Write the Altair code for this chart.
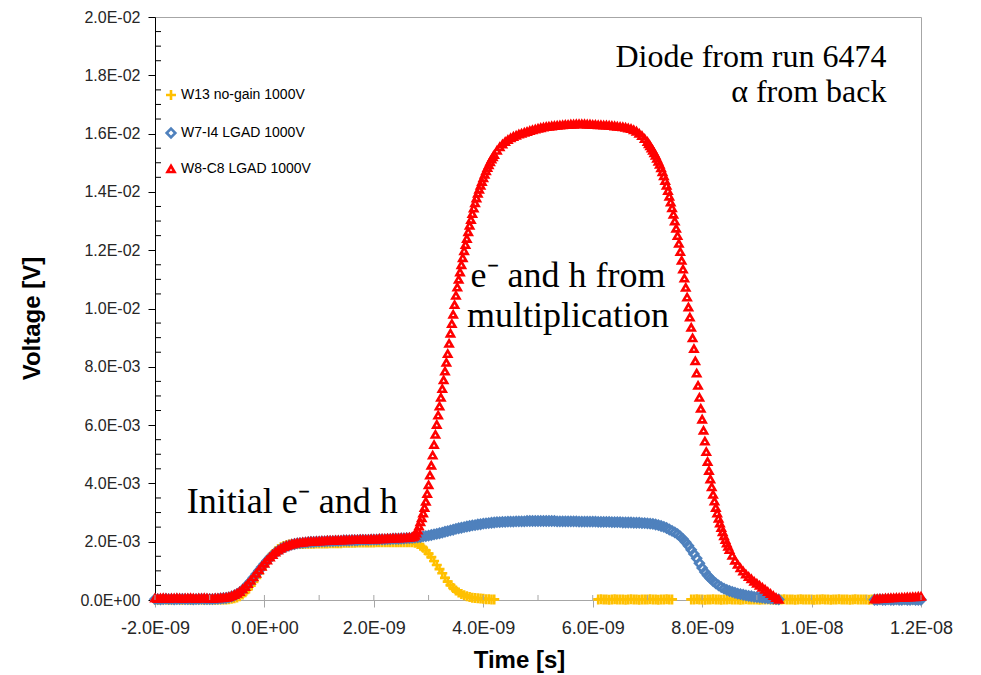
import altair as alt
import pandas as pd

# ---------------- data (time in ns, voltage in mV) ----------------
T0_NS = -2.0
DT_NS = 0.05
N_SAMPLES = 281
TIME_NS = [round(T0_NS + DT_NS * i, 3) for i in range(N_SAMPLES)]

N = None
SERIES = ["W13 no-gain 1000V", "W7-I4 LGAD 1000V", "W8-C8 LGAD 1000V"]
COLORS = ["#FFC000", "#4F81BD", "#FF0000"]

W13_MV = [
    0.02, 0.01, 0.02, 0.03, 0.02, 0.01, 0.02, 0.02, 0.03, 0.02, 0.01, 0.02, 0.02, 0.01, 0.02, 0.03, 0.02, 0.02, 0.01, 0.02,
    0.02, 0.02, 0.01, 0.02, 0.02, 0.02, 0.02, 0.03, 0.04, 0.06, 0.09, 0.13, 0.19, 0.27, 0.37, 0.49, 0.62, 0.76, 0.91, 1.06,
    1.20, 1.34, 1.47, 1.58, 1.67, 1.75, 1.81, 1.85, 1.88, 1.90, 1.91, 1.91, 1.92, 1.92, 1.92, 1.93, 1.93, 1.93, 1.93, 1.94,
    1.94, 1.94, 1.94, 1.94, 1.95, 1.95, 1.95, 1.95, 1.95, 1.96, 1.96, 1.96, 1.96, 1.96, 1.97, 1.97, 1.97, 1.97, 1.97, 1.97,
    1.97, 1.98, 1.98, 1.98, 1.98, 1.98, 1.98, 1.98, 1.98, 1.98, 1.98, 1.98, 1.98, 1.98, 1.98, 1.96, 1.92, 1.86, 1.79, 1.70,
    1.59, 1.47, 1.34, 1.20, 1.06, 0.92, 0.76, 0.63, 0.51, 0.41, 0.33, 0.26, 0.21, 0.16, 0.13, 0.10, 0.08, 0.07, 0.06, 0.05,
    0.04, 0.03, 0.03, 0.02, 0.02, N, N, N, N, N, N, N, N, N, N, N, N, N, N, N,
    N, N, N, N, N, N, N, N, N, N, N, N, N, N, N, N, N, N, N, N,
    N, N, 0.02, 0.03, 0.02, 0.02, 0.01, 0.02, 0.03, 0.02, 0.02, 0.02, 0.01, 0.02, 0.03, 0.02, 0.02, 0.01, 0.02, 0.02,
    0.02, 0.03, 0.02, 0.02, 0.01, 0.02, 0.02, 0.03, 0.02, 0.02, N, N, N, N, N, N, 0.02, 0.02, 0.03, 0.02,
    0.02, 0.01, 0.02, 0.02, 0.03, 0.02, 0.02, 0.01, 0.02, 0.02, 0.03, 0.02, 0.02, 0.02, 0.01, 0.02, 0.03, 0.02, 0.02, 0.02,
    0.02, 0.01, 0.02, 0.02, 0.03, 0.02, 0.02, 0.01, 0.02, 0.02, 0.03, 0.02, 0.02, 0.02, 0.01, 0.02, 0.03, 0.02, 0.02, 0.02,
    0.02, 0.01, 0.02, 0.02, 0.03, 0.02, 0.02, 0.01, 0.02, 0.02, 0.03, 0.02, 0.02, 0.02, 0.01, 0.02, 0.03, 0.02, 0.02, 0.02,
    0.02, 0.01, 0.02, 0.02, 0.03, 0.02, 0.02, 0.01, 0.02, 0.02, 0.03, 0.02, 0.02, 0.02, 0.01, 0.02, 0.03, 0.02, 0.02, 0.02,
    0.02,
]

W7_MV = [
    0.03, 0.03, 0.02, 0.03, 0.04, 0.03, 0.03, 0.02, 0.03, 0.03, 0.04, 0.03, 0.03, 0.03, 0.02, 0.03, 0.03, 0.04, 0.03, 0.03,
    0.03, 0.03, 0.04, 0.04, 0.05, 0.06, 0.07, 0.09, 0.12, 0.16, 0.21, 0.27, 0.35, 0.44, 0.54, 0.65, 0.77, 0.89, 1.01, 1.13,
    1.24, 1.35, 1.45, 1.54, 1.62, 1.69, 1.75, 1.80, 1.84, 1.87, 1.90, 1.92, 1.94, 1.95, 1.96, 1.97, 1.98, 1.99, 1.99, 2.00,
    2.00, 2.01, 2.01, 2.02, 2.02, 2.02, 2.03, 2.03, 2.03, 2.04, 2.04, 2.04, 2.05, 2.05, 2.05, 2.06, 2.06, 2.06, 2.06, 2.07,
    2.07, 2.07, 2.08, 2.08, 2.08, 2.09, 2.09, 2.10, 2.10, 2.10, 2.11, 2.11, 2.12, 2.12, 2.13, 2.14, 2.15, 2.16, 2.18, 2.19,
    2.21, 2.23, 2.25, 2.27, 2.29, 2.31, 2.34, 2.36, 2.39, 2.41, 2.44, 2.46, 2.48, 2.50, 2.52, 2.54, 2.56, 2.57, 2.59, 2.60,
    2.62, 2.63, 2.64, 2.65, 2.66, 2.67, 2.67, 2.68, 2.68, 2.69, 2.69, 2.69, 2.70, 2.70, 2.70, 2.70, 2.71, 2.71, 2.71, 2.71,
    2.71, 2.71, 2.71, 2.71, 2.71, 2.71, 2.71, 2.70, 2.70, 2.70, 2.70, 2.70, 2.70, 2.70, 2.70, 2.69, 2.69, 2.69, 2.69, 2.69,
    2.69, 2.69, 2.68, 2.68, 2.68, 2.68, 2.68, 2.67, 2.67, 2.67, 2.67, 2.66, 2.66, 2.66, 2.66, 2.65, 2.65, 2.65, 2.64, 2.64,
    2.63, 2.62, 2.61, 2.59, 2.57, 2.54, 2.51, 2.47, 2.42, 2.37, 2.32, 2.26, 2.18, 2.09, 1.98, 1.86, 1.72, 1.58, 1.43, 1.26,
    1.10, 0.96, 0.84, 0.74, 0.65, 0.57, 0.50, 0.44, 0.39, 0.35, 0.31, 0.28, 0.25, 0.22, 0.20, 0.18, 0.16, 0.14, 0.13, 0.11,
    0.10, 0.09, 0.08, 0.07, 0.06, 0.05, 0.04, 0.03, 0.02, N, N, N, N, N, N, N, N, N, N, N,
    N, N, N, N, N, N, N, N, N, N, N, N, N, N, N, N, N, N, N, N,
    N, N, N, 0.01, 0.01, 0.02, 0.01, 0.01, 0.02, 0.01, 0.01, 0.02, 0.01, 0.01, 0.02, 0.01, 0.01, 0.02, 0.01, 0.01,
    0.01,
]

W8_MV = [
    0.06, 0.05, 0.06, 0.07, 0.06, 0.05, 0.06, 0.06, 0.07, 0.06, 0.05, 0.06, 0.06, 0.07, 0.06, 0.05, 0.06, 0.06, 0.07, 0.06,
    0.05, 0.05, 0.06, 0.06, 0.07, 0.08, 0.09, 0.11, 0.14, 0.18, 0.23, 0.29, 0.37, 0.46, 0.56, 0.67, 0.79, 0.91, 1.03, 1.15,
    1.26, 1.37, 1.47, 1.56, 1.64, 1.71, 1.77, 1.82, 1.86, 1.89, 1.92, 1.94, 1.96, 1.97, 1.98, 1.99, 2.00, 2.01, 2.01, 2.02,
    2.02, 2.03, 2.03, 2.04, 2.04, 2.04, 2.05, 2.05, 2.05, 2.06, 2.06, 2.06, 2.07, 2.07, 2.07, 2.08, 2.08, 2.08, 2.08, 2.09,
    2.09, 2.09, 2.10, 2.10, 2.10, 2.11, 2.11, 2.12, 2.12, 2.12, 2.13, 2.13, 2.14, 2.15, 2.16, 2.22, 2.40, 2.68, 2.98, 3.38,
    3.95, 4.62, 5.33, 6.02, 6.65, 7.25, 7.85, 8.45, 9.15, 9.80, 10.45, 11.00, 11.50, 11.98, 12.40, 12.85, 13.25, 13.62, 13.95, 14.22,
    14.48, 14.72, 14.93, 15.12, 15.28, 15.42, 15.54, 15.64, 15.72, 15.79, 15.85, 15.90, 15.94, 15.98, 16.01, 16.04, 16.07, 16.10, 16.13, 16.15,
    16.18, 16.20, 16.22, 16.24, 16.25, 16.26, 16.27, 16.28, 16.29, 16.30, 16.31, 16.31, 16.32, 16.32, 16.33, 16.33, 16.33, 16.33, 16.32, 16.32,
    16.31, 16.31, 16.30, 16.30, 16.29, 16.29, 16.28, 16.27, 16.26, 16.25, 16.24, 16.23, 16.21, 16.19, 16.17, 16.13, 16.08, 16.01, 15.93, 15.83,
    15.72, 15.58, 15.42, 15.25, 15.05, 14.82, 14.55, 14.22, 13.85, 13.45, 13.00, 12.50, 11.95, 11.35, 10.72, 10.05, 9.35, 8.62, 7.78, 6.95,
    6.20, 5.45, 4.75, 4.15, 3.62, 3.17, 2.80, 2.48, 2.20, 1.95, 1.73, 1.53, 1.36, 1.22, 1.10, 0.99, 0.89, 0.80, 0.72, 0.64,
    0.57, 0.50, 0.43, 0.36, 0.29, 0.22, 0.15, 0.08, 0.02, N, N, N, N, N, N, N, N, N, N, N,
    N, N, N, N, N, N, N, N, N, N, N, N, N, N, N, N, N, N, N, N,
    N, N, N, 0.03, 0.04, 0.05, 0.05, 0.06, 0.06, 0.07, 0.07, 0.08, 0.08, 0.09, 0.09, 0.10, 0.10, 0.11, 0.11, 0.12,
    0.12,
]

# extra W8 samples half-way between grid points on the steep edges
W8_MID_RISE_T0 = 2.725
W8_MID_RISE_MV = [
    2.18, 2.29, 2.53, 2.82, 3.17, 3.65, 4.28, 4.97, 5.68, 6.34, 6.95, 7.55, 8.15, 8.80, 9.48,
    10.13, 10.73, 11.25, 11.74, 12.19, 12.63, 13.05, 13.44, 13.79, 14.09, 14.35, 14.60, 14.83, 15.03, 15.20,
]
W8_MID_FALL_T0 = 7.025
W8_MID_FALL_MV = [
    15.65, 15.50, 15.34, 15.15, 14.94, 14.69, 14.39, 14.04, 13.65, 13.23, 12.75, 12.23, 11.65, 11.04, 10.39,
    9.70, 8.99, 8.20, 7.36, 6.57, 5.82, 5.09, 4.44, 3.88, 3.39, 2.98, 2.64, 2.34, 2.07, 1.84,
]

X_TICKS = [-2, 0, 2, 4, 6, 8, 10, 12]
X_LABELS = ["-2.0E-09", "0.0E+00", "2.0E-09", "4.0E-09", "6.0E-09", "8.0E-09", "1.0E-08", "1.2E-08"]
X_MINOR = [-2, -1, 0, 1, 2, 3, 4, 5, 6, 7, 8, 9, 10, 11, 12]
Y_TICKS = [0, 2, 4, 6, 8, 10, 12, 14, 16, 18, 20]
Y_LABELS = ["0.0E+00", "2.0E-03", "4.0E-03", "6.0E-03", "8.0E-03", "1.0E-02",
            "1.2E-02", "1.4E-02", "1.6E-02", "1.8E-02", "2.0E-02"]
Y_MINOR = [0.5, 1.0, 1.5, 2.5, 3.0, 3.5, 4.5, 5.0, 5.5, 6.5, 7.0, 7.5, 8.5, 9.0, 9.5,
           10.5, 11.0, 11.5, 12.5, 13.0, 13.5, 14.5, 15.0, 15.5, 16.5, 17.0, 17.5, 18.5, 19.0, 19.5]

NOTE_RIGHT = [("Diode from run 6474", 11.37, 18.27), ("\u03b1 from back", 11.37, 17.09)]
NOTE_CENTER = [("e\u207b and h from", 5.55, 10.75), ("multiplication", 5.55, 9.37)]
NOTE_LEFT = [("Initial e\u207b and h", -1.42, 2.97)]

# ---------------- build table ----------------
rows = []
for name, vals in [(SERIES[0], W13_MV), (SERIES[1], W7_MV), (SERIES[2], W8_MV)]:
    for t, v in zip(TIME_NS, vals):
        if v is not None:
            rows.append({"series": name, "t": t, "v": v})
for t0, vals in [(W8_MID_RISE_T0, W8_MID_RISE_MV), (W8_MID_FALL_T0, W8_MID_FALL_MV)]:
    for i, v in enumerate(vals):
        rows.append({"series": SERIES[2], "t": round(t0 + DT_NS * i, 3), "v": v})
df = pd.DataFrame(rows)
df["marker"] = df["series"]  # same categories, used for marker size/stroke only


def label_expr(values, labels):
    parts = [f"datum.value == {v} ? '{l}'" for v, l in zip(values, labels)]
    return " : ".join(parts) + " : ''"


LABEL_FONT = "Liberation Sans"
SERIF = "Liberation Serif"
GRAY = "#A6A6A6"

xscale = alt.Scale(domain=[-2, 12], nice=False, zero=False)
yscale = alt.Scale(domain=[0, 20], nice=False, zero=False)

X_AXIS = alt.Axis(
    values=X_TICKS, labelExpr=label_expr(X_TICKS, X_LABELS),
    domainColor=GRAY, tickColor=GRAY, tickSize=7, grid=False,
    labelFont=LABEL_FONT, labelFontSize=18, labelColor="#262626", labelPadding=12,
    labelFlush=False, labelOverlap=False,
    title="Time [s]", titleFont=LABEL_FONT, titleFontSize=24, titleFontWeight="bold",
    titleColor="#000000", titleX=364, titleY=67, titleAlign="center", titleBaseline="alphabetic",
)
Y_AXIS = alt.Axis(
    values=Y_TICKS, labelExpr=label_expr(Y_TICKS, Y_LABELS),
    domainColor="#000000", tickColor="#000000", tickSize=7, grid=False,
    labelFont=LABEL_FONT, labelFontSize=16, labelColor="#262626", labelPadding=8,
    labelOverlap=False,
    title="Voltage [V]", titleFont=LABEL_FONT, titleFontSize=24, titleFontWeight="bold",
    titleColor="#000000", titleAngle=270, titleX=-116, titleY=301,
    titleAlign="center", titleBaseline="alphabetic",
)

legend = alt.Legend(
    title=None, orient="none", legendX=9, legendY=71, padding=0,
    labelFont=LABEL_FONT, labelFontSize=14, labelColor="#000000",
    symbolSize=45, symbolStrokeWidth=1.2, rowPadding=17, labelOffset=3,
)

PLUS = "M-1,0L1,0M0,-1L0,1"

points = alt.Chart(df).mark_point(filled=False, opacity=1).encode(
    x=alt.X("t:Q", scale=xscale, axis=X_AXIS),
    y=alt.Y("v:Q", scale=yscale, axis=Y_AXIS),
    color=alt.Color("series:N", scale=alt.Scale(domain=SERIES, range=COLORS), legend=legend),
    shape=alt.Shape("series:N", scale=alt.Scale(domain=SERIES, range=[PLUS, "diamond", "triangle-up"]), legend=legend),
    size=alt.Size("marker:N", scale=alt.Scale(domain=SERIES, range=[100, 50, 50]), legend=None),
    strokeWidth=alt.StrokeWidth("marker:N", scale=alt.Scale(domain=SERIES, range=[2.6, 2.6, 1.3]), legend=None),
)

xminor = alt.Chart(pd.DataFrame({"t": X_MINOR})).mark_rule(color=GRAY, strokeWidth=1).encode(
    x=alt.X("t:Q", scale=xscale, axis=X_AXIS), y=alt.value(583), y2=alt.value(578)
)
yminor = alt.Chart(pd.DataFrame({"v": Y_MINOR})).mark_rule(color="#000000", strokeWidth=1).encode(
    y=alt.Y("v:Q", scale=yscale, axis=Y_AXIS), x=alt.value(0), x2=alt.value(6)
)


def notes(items, align):
    d = pd.DataFrame(items, columns=["label", "t", "v"])
    return alt.Chart(d).mark_text(
        font=SERIF, fontSize=32 if align == "right" else 36, align=align,
        baseline="alphabetic", color="#000000"
    ).encode(
        x=alt.X("t:Q", scale=xscale, axis=X_AXIS),
        y=alt.Y("v:Q", scale=yscale, axis=Y_AXIS),
        text="label:N",
    )


chart = alt.layer(
    points, xminor, yminor,
    notes(NOTE_RIGHT, "right"), notes(NOTE_CENTER, "center"), notes(NOTE_LEFT, "left"),
).properties(
    width=766, height=583,
    autosize=alt.AutoSizeParams(type="none"),
    padding={"left": 155, "top": 17, "right": 60, "bottom": 75},
    background="white",
).configure_view(stroke=GRAY, strokeWidth=1)

chart.save("out.html", embed_options={"renderer": "svg", "actions": False})
